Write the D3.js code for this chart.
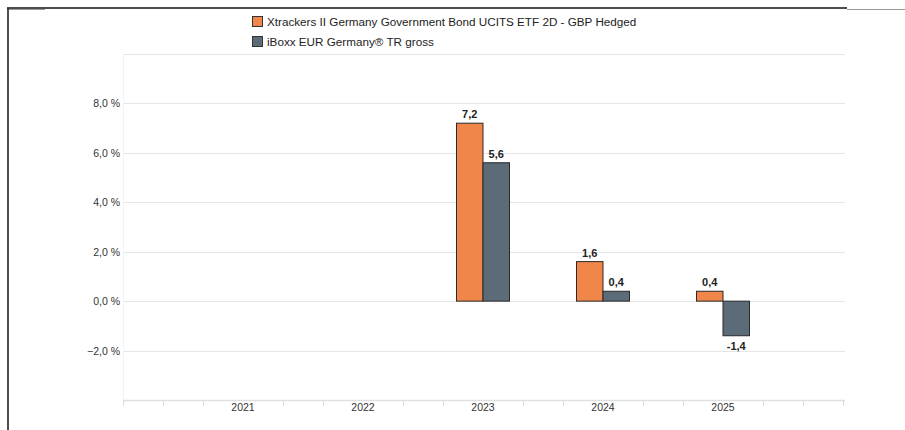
<!DOCTYPE html>
<html>
<head>
<meta charset="utf-8">
<script src="https://cdn.jsdelivr.net/npm/d3@7"></script>
<style>
  body { margin: 0; background: #fff; }
  svg { display: block; font-family: "Liberation Sans", Arial, sans-serif; }
</style>
</head>
<body>
<div id="chart"></div>
<script>
// data
const years = ["2021", "2022", "2023", "2024", "2025"];
const fundValues = [null, null, 7.2, 1.6, 0.4];
const indexValues = [null, null, 5.6, 0.4, -1.4];
const seriesNames = [
  "Xtrackers II Germany Government Bond UCITS ETF 2D - GBP Hedged",
  "iBoxx EUR Germany® TR gross"
];
const yTicks = [-2, 0, 2, 4, 6, 8];
const gridTicks = [-2, 0, 2, 4, 6, 8, 10];

const colors = ["#f0864a", "#5b6b77"];
const width = 905, height = 430;
const plot = {left: 123, right: 845, top: 54, bottom: 400};

const svg = d3.select("#chart").append("svg")
    .attr("width", width)
    .attr("height", height);

// outer frame (screenshot edge)
svg.append("line").attr("x1", 7).attr("x2", 847).attr("y1", 8).attr("y2", 8)
    .attr("stroke", "#111").attr("stroke-width", 1.5);
svg.append("line").attr("x1", 8).attr("x2", 8).attr("y1", 8).attr("y2", height)
    .attr("stroke", "#222").attr("stroke-width", 1.6);
svg.append("line").attr("x1", 847).attr("x2", width).attr("y1", 9.5).attr("y2", 9.5)
    .attr("stroke", "#999").attr("stroke-width", 1);
svg.append("line").attr("x1", 9).attr("x2", 45).attr("y1", 9.5).attr("y2", 9.5)
    .attr("stroke", "#999").attr("stroke-width", 1);

// scales
const x = d3.scaleBand()
    .domain(years)
    .range([183, 783]);
const y = d3.scaleLinear()
    .domain([-4, 10])
    .range([plot.bottom, plot.top]);

// grid
svg.append("g").selectAll("line")
  .data(gridTicks)
  .join("line")
    .attr("x1", plot.left).attr("x2", plot.right)
    .attr("y1", d => Math.round(y(d)) + 0.5).attr("y2", d => Math.round(y(d)) + 0.5)
    .attr("stroke", "#e6e6e6").attr("stroke-width", 1.2);

svg.append("line")
    .attr("x1", plot.left + 0.5).attr("x2", plot.left + 0.5)
    .attr("y1", plot.top).attr("y2", plot.bottom)
    .attr("stroke", "#f3f3f3");

// y axis labels
svg.append("g").selectAll("text")
  .data(yTicks)
  .join("text")
    .attr("x", plot.left - 3)
    .attr("y", d => y(d) + 4)
    .attr("text-anchor", "end")
    .attr("font-size", 10.5)
    .attr("fill", "#333")
    .text(d => d3.format(".1f")(d).replace(".", ",") + " %");

// x axis
svg.append("line")
    .attr("x1", plot.left).attr("x2", plot.right)
    .attr("y1", plot.bottom + 0.5).attr("y2", plot.bottom + 0.5)
    .attr("stroke", "#e0e0e0").attr("stroke-width", 1.5);

const minorStep = x.step() / 3;
const minorTicks = d3.range(0, 19).map(i => plot.left + i * minorStep)
    .filter((d, i) => i % 3 !== 0 || i === 0 || i === 18);
svg.append("g").selectAll("line")
  .data(minorTicks)
  .join("line")
    .attr("x1", d => d + 0.5).attr("x2", d => d + 0.5)
    .attr("y1", plot.bottom).attr("y2", plot.bottom + 6)
    .attr("stroke", "#dddddd");

svg.append("g").selectAll("text")
  .data(years)
  .join("text")
    .attr("x", d => x(d) + x.bandwidth() / 2)
    .attr("y", plot.bottom + 11)
    .attr("text-anchor", "middle")
    .attr("font-size", 10.5)
    .attr("fill", "#333")
    .text(d => d);

// bars
const barW = 26.5;
const series = [fundValues, indexValues];
series.forEach((vals, s) => {
  const rows = years.map((yr, i) => ({year: yr, value: vals[i]})).filter(d => d.value !== null);
  const bx = d => x(d.year) + x.bandwidth() / 2 + (s === 0 ? -barW : 0);

  svg.append("g").selectAll("rect")
    .data(rows)
    .join("rect")
      .attr("x", bx)
      .attr("y", d => y(Math.max(0, d.value)))
      .attr("width", barW)
      .attr("height", d => Math.abs(y(d.value) - y(0)))
      .attr("fill", colors[s])
      .attr("stroke", "#2a2a2a")
      .attr("stroke-width", 1);

  svg.append("g").selectAll("text")
    .data(rows)
    .join("text")
      .attr("x", d => bx(d) + barW / 2)
      .attr("y", d => d.value >= 0 ? y(d.value) - 5 : y(d.value) + 14)
      .attr("text-anchor", "middle")
      .attr("font-size", 11)
      .attr("font-weight", "bold")
      .attr("fill", "#222")
      .text(d => d3.format(".1f")(d.value).replace(".", ",").replace("−", "-"));
});

// legend
const legend = svg.append("g").attr("transform", "translate(252,15)");
seriesNames.forEach((name, i) => {
  const g = legend.append("g").attr("transform", `translate(0,${i * 20})`);
  g.append("rect")
      .attr("x", 0.5).attr("y", 1.5)
      .attr("width", 10).attr("height", 10)
      .attr("fill", colors[i])
      .attr("stroke", "#333").attr("stroke-width", 1);
  g.append("text")
      .attr("x", 15).attr("y", 11)
      .attr("font-size", 11.7)
      .attr("fill", "#222")
      .text(name);
});
</script>
</body>
</html>
